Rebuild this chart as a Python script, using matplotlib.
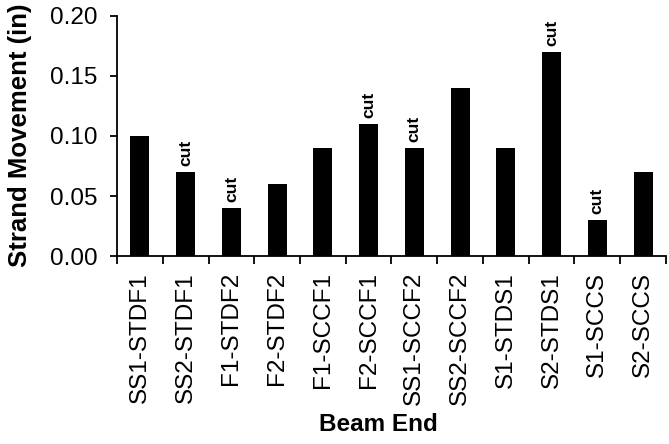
import numpy as np
import matplotlib.pyplot as plt
from matplotlib.ticker import FixedLocator, FormatStrFormatter

plt.rcParams['font.family'] = ['Liberation Sans', 'DejaVu Sans']

beam_ends = ["SS1-STDF1", "SS2-STDF1", "F1-STDF2", "F2-STDF2", "F1-SCCF1", "F2-SCCF1",
             "SS1-SCCF2", "SS2-SCCF2", "S1-STDS1", "S2-STDS1", "S1-SCCS", "S2-SCCS"]
movement = [0.10, 0.07, 0.04, 0.06, 0.09, 0.11, 0.09, 0.14, 0.09, 0.17, 0.03, 0.07]
cut = [False, True, True, False, False, True, True, False, False, True, True, False]

fig = plt.figure(figsize=(6.69, 4.44), dpi=100)
ax = fig.add_axes([0.1749, 0.4234, 0.8206, 0.5406])

x = np.arange(len(beam_ends))
ax.bar(x, movement, width=0.42, color="black")

# "cut" notes above the strands that were cut
for xi, v, c in zip(x, movement, cut):
    if c:
        ax.annotate("cut", (xi, v), xytext=(0, 4), textcoords="offset points",
                    rotation=90, ha="center", va="bottom", fontsize=12.5, fontweight="bold")

ax.set_xlim(-0.5, len(beam_ends) - 0.5)
ax.set_ylim(0, 0.20)
ax.set_yticks([0.00, 0.05, 0.10, 0.15, 0.20])
ax.yaxis.set_major_formatter(FormatStrFormatter("%.2f"))

ax.set_xticks(x)
ax.set_xticklabels(beam_ends, rotation=90)
ax.xaxis.set_minor_locator(FixedLocator(np.arange(-0.5, len(beam_ends), 1.0)))

for s in ["top", "right"]:
    ax.spines[s].set_visible(False)
for s in ["left", "bottom"]:
    ax.spines[s].set_linewidth(1.3)

ax.tick_params(axis="y", direction="out", length=5, width=1.3, pad=9, labelsize=17.5)
ax.tick_params(axis="x", which="major", length=0, pad=11.5, labelsize=17.5)
ax.tick_params(axis="x", which="minor", direction="out", length=6, width=1.3)

fig.text(0.565, 0.043, "Beam End", ha="center", va="center", fontsize=17.5, fontweight="bold")
fig.text(0.030, 0.695, "Strand Movement (in)", ha="center", va="center", rotation=90,
         fontsize=18.5, fontweight="bold")

fig.savefig("out.png", dpi=100)
